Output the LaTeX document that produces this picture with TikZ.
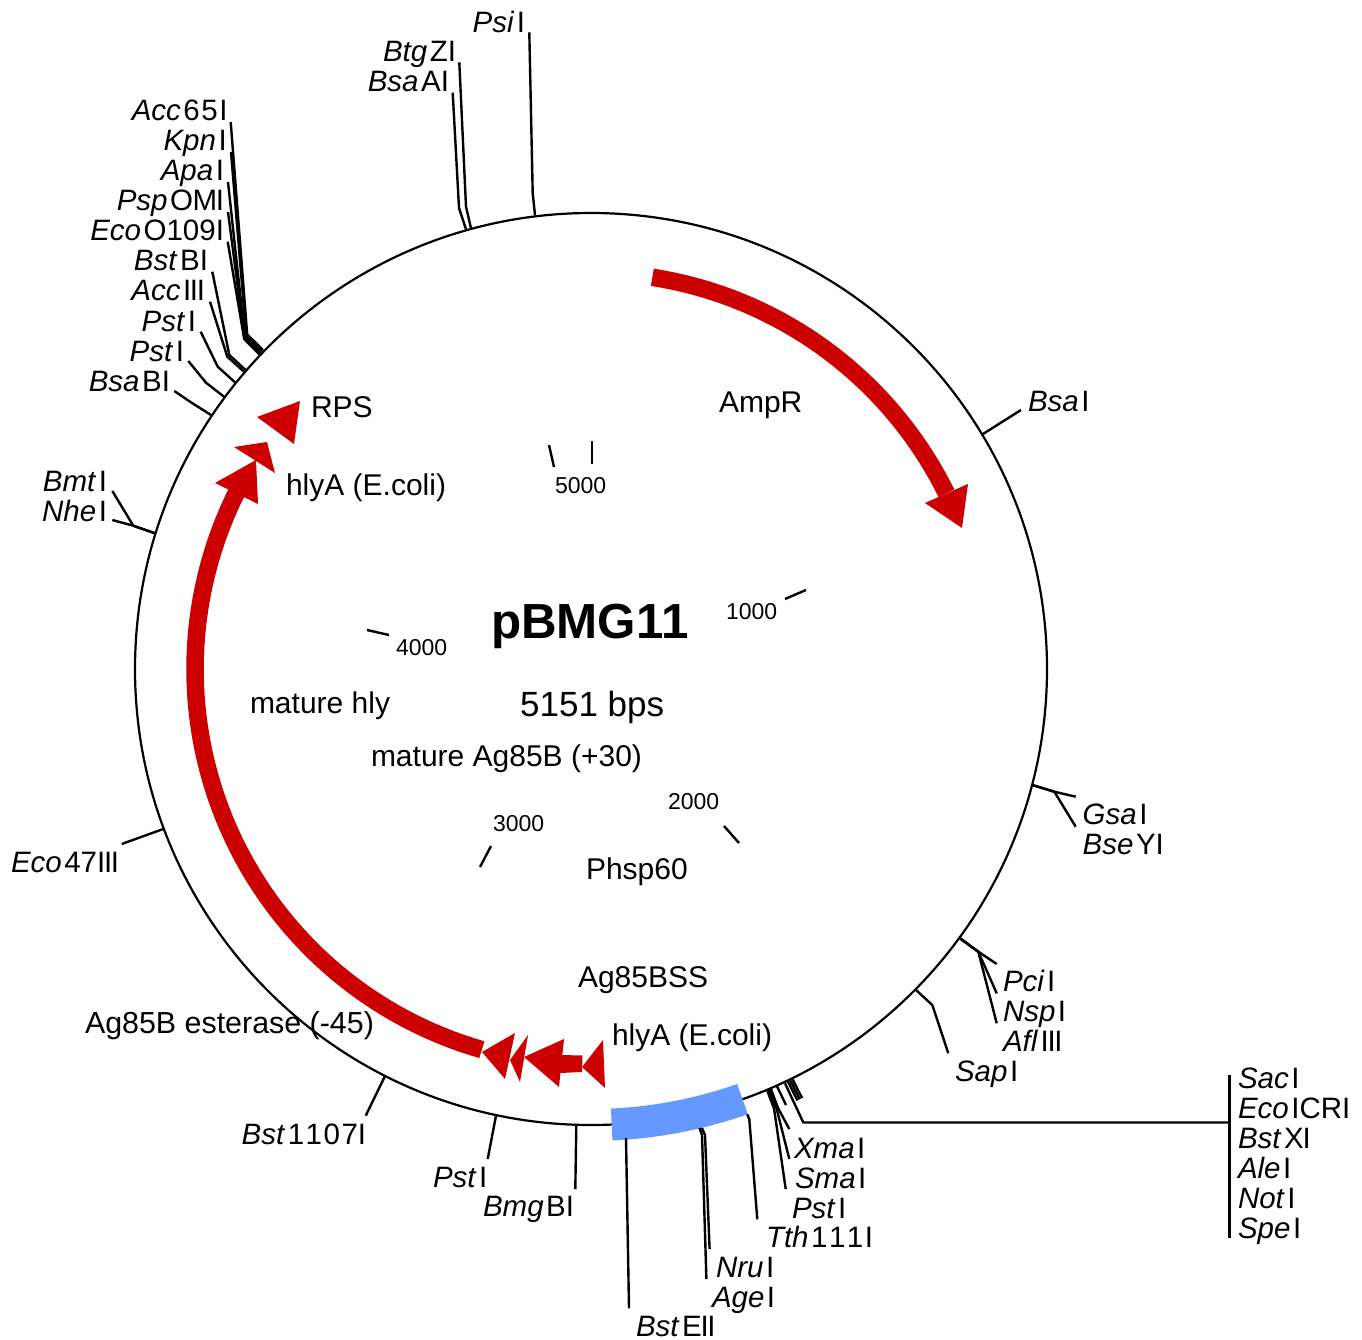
\documentclass[tikz,border=0pt]{standalone}
\usepackage{fontspec}
\setmainfont{Liberation Sans}
\definecolor{arrowred}{HTML}{CC0000}
\definecolor{promblue}{HTML}{6699FF}
\newcommand{\lab}[5]{\node[sitelabel,anchor=base #2] (#1) at (#3) {\textit{#4}\kern2.5pt #5};}
\newcommand{\wire}[4]{\coordinate (#1-r) at (#2);\coordinate (#1-e) at (#3);\coordinate (#1-t) at (#4);\draw[cutline] (#1-r) -- (#1-e) -- (#1-t);}
\newcommand{\tickmark}[3]{\coordinate (#1-a) at (#2);\coordinate (#1-b) at (#3);\draw[cutline] (#1-a) -- (#1-b);}
\newcommand{\featlab}[3]{\node[featlabel] (#1) at (#2) {#3};}
\newcommand{\numlab}[3]{\node[numlabel] (#1) at (#2) {#3};}
\newcommand{\dk}{\kern1.5pt}
\newcommand{\tI}{\kern-1.3pt}
\tikzset{
  cutline/.style={line width=2.4pt,black,line join=round},
  sitelabel/.style={inner sep=0pt,outer sep=0pt,yshift=-1pt,font=\fontsize{29.5}{31}\selectfont},
  featlabel/.style={inner sep=0pt,outer sep=0pt,anchor=base west,font=\fontsize{30}{32}\selectfont},
  numlabel/.style={inner sep=0pt,outer sep=0pt,anchor=base west,font=\fontsize{23}{25}\selectfont},
  redshaft/.style={line width=17.5pt,arrowred},
  redhead/.style={fill=arrowred,draw=none},
}
\begin{document}
\begin{tikzpicture}[x=1pt,y=-1pt]
\useasboundingbox (0,0) rectangle (1362,1340);
\fill[white] (0,0) rectangle (1362,1340);
% ring
\coordinate (c) at (591,669);
\node[circle,draw,line width=2.2pt,minimum size=912pt,inner sep=0pt] (ring) at (c) {};
% promoter
\fill[promblue] plot[domain=2.6:19.4,samples=30] ({591+440*sin(\x)},{669+440*cos(\x)})
  -- plot[domain=19.4:2.6,samples=30] ({591+472*sin(\x)},{669+472*cos(\x)}) -- cycle;
% AmpR
\draw[redshaft] plot[domain=-81.1:-26.3,samples=60] ({591+396.5*cos(\x)},{669+396.5*sin(\x)});
\fill[redhead] (925,503) -- (968,484) -- (962,528) -- cycle;
% Ag85B
\draw[redshaft] plot[domain=106:206.4,samples=80] ({591+396*cos(\x)},{669+396*sin(\x)});
\fill[redhead] (215,483) -- (256,460) -- (258,504) -- cycle;
\fill[redhead] (234,447) -- (267,442) -- (275,473) -- cycle;
\fill[redhead] (257,417) -- (300,401) -- (294,444) -- cycle;
\fill[redhead] (482,1052) -- (515,1033) -- (505,1079) -- cycle;
\fill[redhead] (510,1060) -- (528,1035) -- (520,1082) -- cycle;
\fill[redhead] (524,1057) -- (564,1039) -- (559,1087) -- cycle;
\fill[redhead] (561,1055) -- (582.5,1055.5) -- (582,1072) -- (560,1073) -- cycle;
\fill[redhead] (582,1067) -- (603,1040) -- (605,1088) -- cycle;
% feature labels
\featlab{ampr}{719,412}{AmpR}
\featlab{rps}{311,417}{RPS}
\featlab{hlya}{286,495}{hlyA (E.coli)}
\featlab{matH}{250,713}{mature hly}
\featlab{matA}{371,766}{mature Ag85B (+30)}
\featlab{phsp}{586,879}{Phsp60}
\featlab{ss}{578,987}{Ag85BSS}
\featlab{hlyb}{612,1045}{hlyA (E.coli)}
\node[featlabel,font=\fontsize{30.4}{32}\selectfont] (est) at (85,1033) {Ag85B esterase (-45)};
\node[inner sep=0pt,anchor=base west,font=\fontsize{49.3}{51}\selectfont\bfseries] (title) at (491,638) {pBMG11};
\node[inner sep=0pt,anchor=base west,font=\fontsize{35}{37}\selectfont] (size) at (520,716) {5151 bps};
% scale
\numlab{n5}{555,493}{5000}\numlab{n1}{726,619}{1000}\numlab{n4}{396,655}{4000}\numlab{n3}{493,831}{3000}\numlab{n2}{668,809}{2000}
\tickmark{t5a}{549,445}{554,467}
\tickmark{t5b}{592,441}{592,464}
\tickmark{t1}{785,599}{806,590}
\tickmark{t4}{367,630}{389,635}
\tickmark{t3}{491,846}{480,867}
\tickmark{t2}{724,826}{739,843}
% top
\lab{psi}{east}{525,32}{Psi}{I}
\lab{btg}{east}{456,61}{Btg}{ZI}
\lab{bsaa}{east}{449,91}{Bsa}{AI}
\wire{wpsi}{535,215}{532.7,193.3}{529.3,32.3}
\wire{wbtg}{471,228.3}{466,206.7}{459.3,62.3}
\wire{wbsaa}{466,229.3}{459,208}{452.7,92.7}
% upper left
\lab{acc}{east}{227.5,120}{Acc}{6\dk 5\dk I}
\lab{kpn}{east}{226.7,150}{Kpn}{I}
\lab{apa}{east}{224,180}{Apa}{I}
\lab{psp}{east}{224,210}{Psp}{O\kern-.5pt M\tI I}
\lab{ecoo}{east}{224,240}{Eco}{O109I}
\lab{bstb}{east}{208,270}{Bst}{BI}
\lab{acciii}{east}{205,300}{Acc}{I\tI I\tI I}
\lab{psta}{east}{196,330}{Pst}{I}
\lab{pstb}{east}{184,360}{Pst}{I}
\lab{bsab}{east}{170,390}{Bsa}{BI}
\wire{wacc}{263,350}{247.2,334.5}{230.7,122}
\wire{wkpn}{262,351}{246.2,335.5}{231,152}
\wire{wapa}{260.5,352.5}{244.8,337}{228,182}
\wire{wpsp}{260,353.5}{244.5,338}{228,212}
\wire{wecoo}{259.5,354.5}{244.2,339}{227.7,241.7}
\wire{wbstb}{245.7,370}{229.3,355}{212.3,271.7}
\wire{waccc}{244,371.7}{227.3,356.7}{210,301.7}
\wire{wpsta}{235,382.3}{217.7,366.7}{200.7,331.7}
\wire{wpstb}{224,396.7}{206,382.7}{188.3,361}
\wire{wbsab}{211,415}{192,403}{174.3,391}
\lab{bmt}{east}{107,490}{Bmt}{I}
\lab{nhe}{east}{107,520}{Nhe}{I}
\wire{wbmt}{155,533.3}{133.3,525.7}{112.3,491}
\wire{wnhe}{155,533.3}{133.3,525.7}{112.3,520}
% right
\lab{bsai}{west}{1028,410}{Bsa}{I}
\tickmark{wbsai}{983,434}{1021,410}
\lab{gsa}{west}{1082.7,823}{Gsa}{I}
\lab{bse}{west}{1082.7,853}{Bse}{YI}
\wire{wgsa}{1032.3,785}{1054.3,791.7}{1075.7,796.7}
\wire{wbse}{1032.3,785}{1054.3,791.7}{1075.7,826.7}
\lab{pci}{west}{1003,990}{Pci}{I}
\lab{nsp}{west}{1003,1020.5}{Nsp}{I}
\lab{afl}{west}{1003,1050}{Afl}{I\tI I\tI I}
\wire{wpci}{960,938.3}{978.3,951.7}{996.7,964}
\wire{wnsp}{960,938.3}{978.3,951.7}{996.7,993.3}
\wire{wafl}{960,938.3}{978.3,951.7}{996.7,1023.3}
\lab{sap}{west}{955,1080}{Sap}{I}
\wire{wsap}{916,990}{932.3,1005}{948.3,1053.3}
% bus
\lab{sac}{west}{1238,1087}{Sac}{I}
\lab{ecoi}{west}{1238,1117}{Eco}{ICRI}
\lab{bstx}{west}{1238,1147}{Bst}{X\tI I}
\lab{ale}{west}{1238,1177}{Ale}{I}
\lab{not}{west}{1238,1207}{Not}{I}
\lab{spe}{west}{1238,1237}{Spe}{I}
\coordinate (bus-a) at (1229.3,1075);
\coordinate (bus-b) at (1229.3,1238);
\coordinate (bus-m) at (1229.3,1122.5);
\draw[cutline] (bus-a) -- (bus-b);
\wire{wbus}{785,1083.3}{803.3,1122.5}{bus-m}
\tickmark{s1}{787.7,1081.2}{797.5,1100.5}
\tickmark{s2}{790,1080}{799.8,1099.3}
\tickmark{s3}{792.3,1078.8}{802.1,1098.1}
\tickmark{s4}{776.7,1085.7}{786,1105}
% bottom
\lab{xma}{west}{794,1157}{Xma}{I}
\lab{sma}{west}{795,1187}{Sma}{I}
\lab{pstc}{west}{792,1217}{Pst}{I}
\lab{tth}{west}{766,1246}{Tth}{1\dk 1\dk 1\dk I}
\lab{nru}{west}{716,1276}{Nru}{I}
\lab{age}{west}{712,1306}{Age}{I}
\lab{bste}{west}{636,1335}{Bst}{E\tI I\tI I}
\lab{bmg}{west}{483,1215}{Bmg}{BI}
\lab{pstd}{west}{433,1186}{Pst}{I}
\lab{bstl}{west}{241.7,1143}{Bst}{1\dk 1\dk 0\dk 7I}
\lab{ecol}{west}{11,871}{Eco}{47I\tI I\tI I}
\wire{wxma}{770.5,1088}{778,1108}{789.3,1129}
\wire{wsma}{768.8,1089}{776.5,1108.3}{789.3,1159}
\wire{wpstc}{767,1090}{774,1108.3}{785.7,1189}
\wire{wtth}{747.3,1114.3}{749.3,1119.3}{757.3,1219.3}
\wire{wnru}{702,1128}{705,1135}{709.6,1249}
\wire{wage}{699.5,1128}{702,1135}{706.4,1279}
\tickmark{wbste}{626,1138}{629,1308.3}
\tickmark{wbmg}{576.3,1125}{575.3,1189}
\tickmark{wpstd}{496,1115.7}{487.7,1159}
\tickmark{wbstl}{385,1076}{365.7,1115.7}
\tickmark{wecol}{163.3,829}{121.7,844}
\end{tikzpicture}
\end{document}
